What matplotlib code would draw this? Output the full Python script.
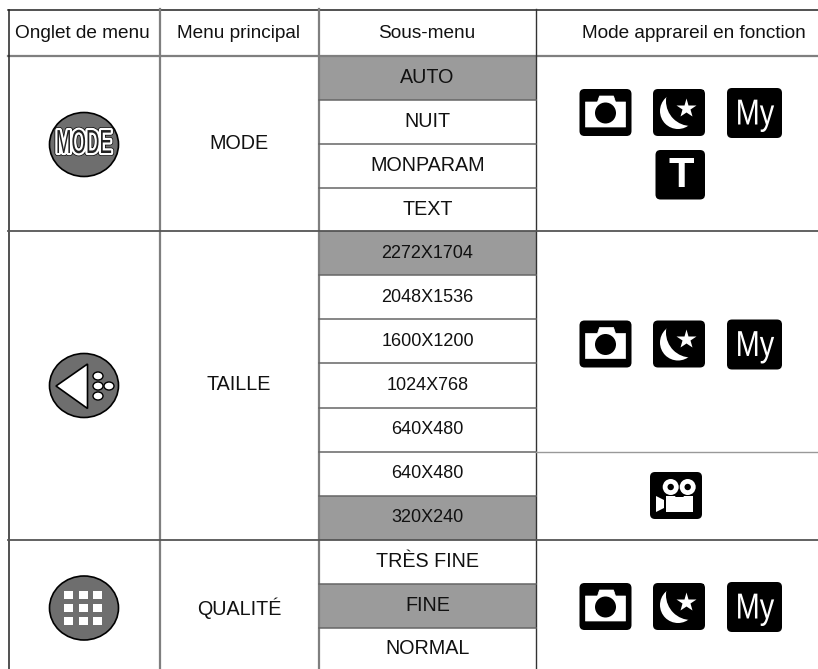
import matplotlib
matplotlib.use('Agg')
import matplotlib.pyplot as plt
from matplotlib.patches import Ellipse, Circle, FancyBboxPatch, Polygon, Rectangle
from matplotlib.patheffects import AbstractPathEffect
from matplotlib.transforms import Affine2D

plt.rcParams['font.family'] = ['Liberation Sans', 'DejaVu Sans']

headers = ['Onglet de menu', 'Menu principal', 'Sous-menu', 'Mode apprareil en fonction']
main_menus = ['MODE', 'TAILLE', 'QUALITÉ']
sub_menus = ['AUTO', 'NUIT', 'MONPARAM', 'TEXT',
             '2272X1704', '2048X1536', '1600X1200', '1024X768', '640X480',
             '640X480', '320X240',
             'TRÈS FINE', 'FINE', 'NORMAL']
sub_shaded = [True, False, False, False,
              True, False, False, False, False,
              False, True,
              False, True, False]

# layout, in pixels of the picture
col_x = [8.5, 160, 319, 536, 818]
row_y = [55.5, 99.5, 144, 187.5, 231, 275, 319, 363, 408, 452, 496, 540, 583.5, 628, 669]
section_y = [143.5, 385, 608]
GREY = '#7f7f7f'
DARK = '#333333'
SHADE = '#9b9b9b'
BADGE = '#6e6e6e'


class Squeeze(AbstractPathEffect):
    # narrows a text around a pixel column, with optional outlines below it
    def __init__(self, x, factor, strokes=()):
        super().__init__()
        self.x = x
        self.factor = factor
        self.strokes = strokes

    def draw_path(self, renderer, gc, tpath, affine, rgbFace=None):
        squeeze = Affine2D().translate(-self.x, 0).scale(self.factor, 1).translate(self.x, 0)
        for width, color in self.strokes:
            gc0 = renderer.new_gc()
            gc0.copy_properties(gc)
            gc0.set_linewidth(width)
            gc0.set_foreground(color)
            renderer.draw_path(gc0, tpath, affine + squeeze, None)
            gc0.restore()
        renderer.draw_path(gc, tpath, affine + squeeze, rgbFace)


def box(ax, x0, y0, x1, y1):
    ax.add_patch(FancyBboxPatch((x0 + 4, y0 + 4), x1 - x0 - 8, y1 - y0 - 8,
                                boxstyle='round,pad=4,rounding_size=5',
                                fc='black', ec='none', zorder=3))


def camera(ax, x, y):
    box(ax, x, y, x + 52, y + 47)
    ax.add_patch(Polygon([(x + 6, y + 13), (x + 18, y + 13), (x + 20, y + 7), (x + 34, y + 7),
                          (x + 36, y + 13), (x + 46, y + 13), (x + 46, y + 38), (x + 6, y + 38)],
                         fc='white', ec='white', lw=0.5, joinstyle='round', zorder=4))
    ax.add_patch(Circle((x + 26, y + 24), 10.5, fc='black', ec='none', zorder=5))


def night(ax, x, y):
    box(ax, x, y, x + 52, y + 47)
    ax.add_patch(Circle((x + 25, y + 22), 18, fc='white', ec='none', zorder=4))
    # black disc cut to the icon box, leaves the crescent
    inner = Circle((x + 38, y + 12), 25, fc='black', ec='none', zorder=5)
    ax.add_patch(inner)
    inner.set_clip_path(Rectangle((x + 1, y + 1), 50, 45, transform=ax.transData))
    # hides the rest of the disc to the right of the crescent tips
    ax.add_patch(Polygon([(x + 14.7, y + 7), (x + 14.7, y + 1), (x + 49, y + 1), (x + 49, y + 36), (x + 38.7, y + 36)],
                         fc='black', ec='none', zorder=5))
    ax.plot([x + 33], [y + 18.7], marker='*', ms=15, mfc='white', mec='none', zorder=6)


def my_icon(ax, x, y):
    box(ax, x, y, x + 55, y + 50)
    ax.text(x + 28, y + 27, 'My', color='white', fontsize=26, ha='center', va='center',
            path_effects=[Squeeze(x + 28, 0.8)], zorder=4)


def t_icon(ax, x, y):
    box(ax, x, y, x + 49.5, y + 49.5)
    ax.text(x + 25.5, y + 26, 'T', color='white', fontsize=30, fontweight='bold',
            ha='center', va='center', zorder=4)


def movie(ax, x, y):
    box(ax, x, y, x + 52, y + 47)
    for dx in [20.7, 37.7]:
        ax.add_patch(Circle((x + dx, y + 15), 8, fc='white', ec='none', zorder=4))
        ax.add_patch(Circle((x + dx, y + 15), 3.2, fc='black', ec='none', zorder=5))
    ax.add_patch(Rectangle((x + 16, y + 24), 26.7, 15.7, fc='white', ec='none', zorder=4))
    ax.add_patch(Polygon([(x + 29.5, y + 18), (x + 25, y + 25), (x + 34, y + 25)],
                         fc='black', ec='none', zorder=6))
    ax.add_patch(Polygon([(x + 6, y + 24), (x + 14, y + 28), (x + 14, y + 36), (x + 6, y + 40)],
                         fc='white', ec='none', zorder=4))


fig = plt.figure(figsize=(8.18, 6.69), dpi=100)
ax = fig.add_axes([0, 0, 1, 1])
ax.set_xlim(0, 818)
ax.set_ylim(669, 0)
ax.axis('off')

# shaded sub menu cells
for i, name in enumerate(sub_menus):
    if sub_shaded[i]:
        ax.add_patch(Rectangle((col_x[2], row_y[i]), col_x[3] - col_x[2], row_y[i + 1] - row_y[i],
                               fc=SHADE, ec='none', zorder=1))
    size = 13 if name[0].isdigit() else 14.2
    ax.text((col_x[2] + col_x[3]) / 2, (row_y[i] + row_y[i + 1]) / 2, name,
            fontsize=size, ha='center', va='center', color='#111111', zorder=2)

# header
header_x = [82, 238.5, 427, 693.5]
for x, name in zip(header_x, headers):
    ax.text(x, 33, name, fontsize=13.7, ha='center', va='center', color='#111111', zorder=2)

# main menu names
for i, name in enumerate(main_menus):
    ax.text(239, section_y[i], name, fontsize=14.2, ha='center', va='center', color='#111111', zorder=2)

# grid lines
ax.plot([8, 818], [10, 10], color='#222222', lw=1.1, zorder=2)
ax.plot([8, 818], [55.5, 55.5], color=GREY, lw=1.6, zorder=2)
ax.plot([8.5, 8.5], [10, 669], color='#222222', lw=1.1, zorder=2)
ax.plot([160, 160], [9, 669], color=GREY, lw=1.6, zorder=2)
ax.plot([319, 319], [9, 669], color=GREY, lw=1.6, zorder=2)
ax.plot([536, 536], [9, 669], color=DARK, lw=1.0, zorder=2)
for y in [231, 540]:
    ax.plot([8, 818], [y, y], color='#555555', lw=1.3, zorder=2)
for i in range(1, 14):
    if row_y[i] not in (231, 540):
        ax.plot([319, 536], [row_y[i], row_y[i]], color='#666666', lw=1.1, zorder=2)
ax.plot([536, 818], [452, 452], color='#999999', lw=1.0, zorder=2)

# round tab buttons
for y in [144.5, 385.5, 608]:
    ax.add_patch(Ellipse((84, y), 69, 64, fc=BADGE, ec='black', lw=1.2, zorder=3))

ax.text(84, 144.5, 'MODE', fontsize=24, ha='center', va='center', color='#222222', zorder=4,
        path_effects=[Squeeze(84, 0.56, strokes=[(4.2, 'black'), (3.2, 'white')])])

# left arrow button
ax.add_patch(Polygon([(56, 386), (87.5, 364), (87.5, 408.5)], fc='white', ec='black', lw=1.2, zorder=4))
for cx, cy in [(98, 376), (98, 386), (109, 386), (98, 396)]:
    ax.add_patch(Ellipse((cx, cy), 10, 8, fc='white', ec='black', lw=1.0, zorder=4))

# quality button dots
for cx in [68.5, 83.5, 97.5]:
    for cy in [594.5, 608, 621]:
        ax.add_patch(Rectangle((cx - 4.75, cy - 4), 9.5, 8, fc='white', ec='none', zorder=4))

# camera mode icons
for y in [89, 320.5, 583]:
    camera(ax, 579.5, y)
    night(ax, 653, y)
    my_icon(ax, 727, y - 1)
t_icon(ax, 655.5, 150)
movie(ax, 650, 472)

fig.savefig('out.png', dpi=100)
plt.close('all')
